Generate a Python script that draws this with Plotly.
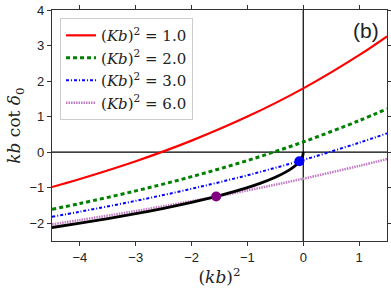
import plotly.graph_objects as go

# x values: (kb)^2
x_curve = [-4.5, -4.0, -3.0, -2.0, -1.0, 0.0, 1.0, 1.5]
# kb cot delta_0 for each (Kb)^2
y_k1 = [-0.981, -0.756, -0.256, 0.324, 1.000, 1.794, 2.730, 3.260]
y_k2 = [-1.607, -1.445, -1.090, -0.689, -0.235, 0.287, 0.887, 1.220]
y_k3 = [-1.817, -1.675, -1.370, -1.030, -0.649, -0.220, 0.265, 0.530]
y_k6 = [-2.030, -1.910, -1.656, -1.379, -1.077, -0.747, -0.387, -0.195]

# bound-state branch
x_bound = [-4.5, -4.0, -3.5, -3.0, -2.5, -2.0, -1.5, -1.0, -0.75, -0.5, -0.3, -0.2,
           -0.1, -0.05, -0.02, -0.005, 0.0]
y_bound = [-2.121, -2.000, -1.871, -1.732, -1.581, -1.414, -1.225, -1.000, -0.866,
           -0.707, -0.548, -0.447, -0.316, -0.224, -0.141, -0.071, 0.0]

# bound-state points
dot_x = [-0.07, -1.56]
dot_y = [-0.255, -1.25]
dot_colors = ["blue", "purple"]

labels = ["(<i>Kb</i>)<sup>2</sup> = 1.0", "(<i>Kb</i>)<sup>2</sup> = 2.0",
          "(<i>Kb</i>)<sup>2</sup> = 3.0", "(<i>Kb</i>)<sup>2</sup> = 6.0"]

fig = go.Figure()

# reference lines
fig.add_trace(go.Scatter(x=[-4.5, 1.5], y=[0, 0], mode="lines",
                         line=dict(color="black", width=1.2), showlegend=False, hoverinfo="skip"))
fig.add_trace(go.Scatter(x=[0, 0], y=[-2.5, 4], mode="lines",
                         line=dict(color="black", width=1.2), showlegend=False, hoverinfo="skip"))

styles = [
    dict(color="#ff0000", width=2.2, dash="solid"),
    dict(color="#008000", width=3, dash="4px,3px"),
    dict(color="#0000ff", width=2, dash="3px,2px,1px,2px"),
    dict(color="#c27ac4", width=2.5, dash="1.5px,1px"),
]
for ys, lab, st in zip([y_k1, y_k2, y_k3, y_k6], labels, styles):
    fig.add_trace(go.Scatter(x=x_curve, y=ys, mode="lines", name=lab,
                             line=dict(shape="spline", **st)))

fig.add_trace(go.Scatter(x=x_bound, y=y_bound, mode="lines", showlegend=False,
                         line=dict(color="black", width=2.8, shape="spline", smoothing=0.6)))

fig.add_trace(go.Scatter(x=dot_x, y=dot_y, mode="markers", showlegend=False,
                         marker=dict(color=dot_colors, size=10, line=dict(width=0))))

axis_common = dict(showgrid=False, zeroline=False, showline=True, linecolor="#333333",
                   linewidth=1.2, mirror="ticks", ticks="outside", ticklen=4,
                   tickcolor="#333333", automargin=False,
                   tickfont=dict(family="Liberation Sans, Arial", size=13, color="#222222"))

fig.update_layout(
    width=391, height=294,
    margin=dict(l=52, r=4, t=10, b=53),
    plot_bgcolor="white", paper_bgcolor="white",
    xaxis=dict(range=[-4.5, 1.5], tickvals=[-4, -3, -2, -1, 0, 1],
               ticktext=["\u22124", "\u22123", "\u22122", "\u22121", "0", "1"],
               title=dict(text="(<i>kb</i>)<sup>2</sup>", standoff=6,
                          font=dict(family="DejaVu Serif", size=17, color="#222222")),
               **axis_common),
    yaxis=dict(range=[-2.5, 4], tickvals=[-2, -1, 0, 1, 2, 3, 4],
               ticktext=["\u22122", "\u22121", "0", "1", "2", "3", "4"],
               title=dict(text="<i>kb</i> cot <i>\u03b4</i><sub>0</sub>", standoff=4,
                          font=dict(family="DejaVu Serif", size=17, color="#222222")),
               **axis_common),
    legend=dict(x=0.024, y=0.965, xanchor="left", yanchor="top",
                bgcolor="white", bordercolor="#cccccc", borderwidth=1,
                font=dict(family="DejaVu Serif", size=15, color="#222222")),
    showlegend=True,
)

fig.add_annotation(text="(b)", x=0.982, y=0.97, xref="paper", yref="paper",
                   xanchor="right", yanchor="top", showarrow=False,
                   font=dict(family="Liberation Sans, Arial", size=21, color="#222222"))

fig.write_html("out.html", config={"displayModeBar": False},
               post_script="document.body.style.margin='0';")
